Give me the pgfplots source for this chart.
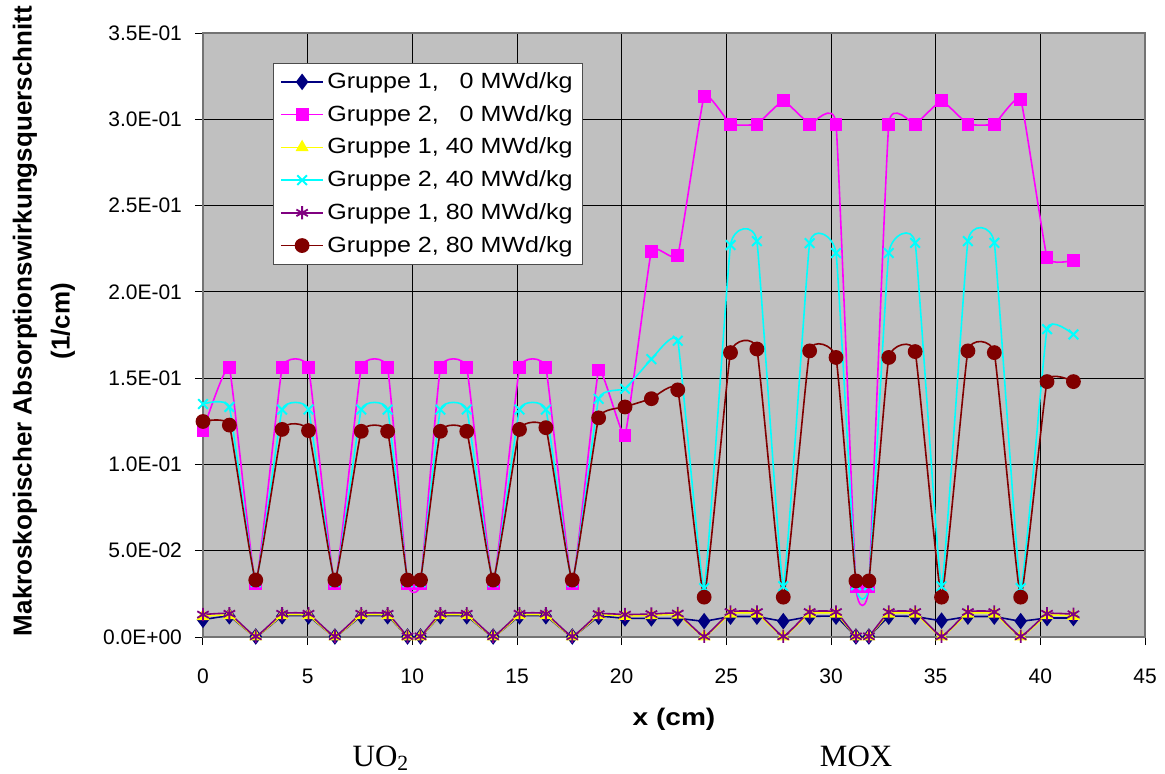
\documentclass[border=0pt]{standalone}
\usepackage{fontspec}
\setmainfont{Liberation Sans}
\newfontfamily\timesfont{Liberation Serif}
\newfontfamily\legfont{Liberation Sans}[FakeStretch=1.14]
\newfontfamily\xlabfont{Liberation Sans}[FakeStretch=1.17]
\usepackage{pgfplots}
\pgfplotsset{compat=1.18}
\usepackage{pgfplotstable}
\definecolor{cnavy}{RGB}{0,0,128}
\definecolor{cmag}{RGB}{255,0,255}
\definecolor{cyel}{RGB}{255,255,0}
\definecolor{ccyan}{RGB}{0,255,255}
\definecolor{cpurp}{RGB}{128,0,128}
\definecolor{cbrown}{RGB}{128,0,0}
\definecolor{cbg}{RGB}{192,192,192}

\pgfplotstableread{
x     ga     gb     gc     gd     ge     gf
0     0.0100 0.1196 0.0120 0.1350 0.0130 0.1249
1.26  0.0120 0.1560 0.0125 0.1333 0.0135 0.1228
2.52  0.0003 0.0310 0.0002 0.0318 0.0004 0.0330
3.78  0.0120 0.1560 0.0125 0.1318 0.0135 0.1203
5.04  0.0120 0.1560 0.0125 0.1318 0.0135 0.1196
6.30  0.0003 0.0310 0.0002 0.0318 0.0004 0.0330
7.56  0.0120 0.1560 0.0125 0.1318 0.0135 0.1192
8.82  0.0120 0.1560 0.0125 0.1318 0.0135 0.1192
9.77  0.0003 0.0310 0.0002 0.0318 0.0004 0.0330
10.39 0.0003 0.0310 0.0002 0.0318 0.0004 0.0330
11.34 0.0120 0.1560 0.0125 0.1318 0.0135 0.1192
12.60 0.0120 0.1560 0.0125 0.1318 0.0135 0.1192
13.86 0.0003 0.0310 0.0002 0.0318 0.0004 0.0330
15.12 0.0120 0.1560 0.0125 0.1318 0.0135 0.1203
16.38 0.0120 0.1560 0.0125 0.1318 0.0135 0.1213
17.64 0.0003 0.0310 0.0002 0.0318 0.0004 0.0330
18.90 0.0118 0.1547 0.0125 0.1380 0.0133 0.1270
20.16 0.0108 0.1170 0.0122 0.1438 0.0130 0.1333
21.42 0.0108 0.2236 0.0125 0.1610 0.0133 0.1381
22.68 0.0108 0.2210 0.0128 0.1717 0.0136 0.1432
23.94 0.0092 0.3134 0.0002 0.0283 0.0004 0.0231
25.20 0.0118 0.2972 0.0135 0.2271 0.0145 0.1648
26.46 0.0118 0.2972 0.0135 0.2294 0.0145 0.1669
27.72 0.0092 0.3107 0.0002 0.0294 0.0004 0.0231
28.98 0.0118 0.2972 0.0135 0.2282 0.0145 0.1658
30.24 0.0118 0.2972 0.0135 0.2225 0.0145 0.1620
31.19 0.0003 0.0294 0.0002 0.0300 0.0004 0.0325
31.81 0.0003 0.0294 0.0002 0.0300 0.0004 0.0325
32.76 0.0118 0.2972 0.0135 0.2225 0.0145 0.1620
34.02 0.0118 0.2972 0.0135 0.2284 0.0145 0.1654
35.28 0.0095 0.3107 0.0002 0.0294 0.0004 0.0231
36.54 0.0118 0.2972 0.0135 0.2294 0.0145 0.1658
37.80 0.0118 0.2972 0.0135 0.2284 0.0145 0.1648
39.06 0.0092 0.3117 0.0002 0.0283 0.0004 0.0231
40.32 0.0110 0.2200 0.0125 0.1784 0.0135 0.1480
41.58 0.0110 0.2183 0.0122 0.1753 0.0132 0.1480
}\data

\begin{document}
\begin{tikzpicture}
\path[use as bounding box] (-101.5pt,-68pt) rectangle (481pt,318.5pt);
\begin{axis}[
  at={(0,0)}, anchor=south west,
  scale only axis, width=471pt, height=302pt,
  xmin=0, xmax=45, ymin=0, ymax=0.35,
  xtick={0,5,10,15,20,25,30,35,40,45},
  ytick={0,0.05,0.1,0.15,0.2,0.25,0.3,0.35},
  yticklabels={0.0E+00,5.0E-02,1.0E-01,1.5E-01,2.0E-01,2.5E-01,3.0E-01,3.5E-01},
  /pgf/number format/assume math mode=true,
  tick label style={font=\fontsize{10.5}{12}\selectfont},
  xticklabel style={yshift=-8.5pt},
  yticklabel style={xshift=-3pt},
  tick align=outside, tick pos=left,
  major tick length=4pt,
  tick style={black, line width=0.5pt},
  axis background/.style={fill=cbg},
  axis line style={black!55, line width=0.6pt},
  grid=major,
  major grid style={black, line width=0.5pt},
  xlabel={x (cm)},
  xlabel style={font=\xlabfont\bfseries\fontsize{12}{14}\selectfont, at={(axis description cs:0.5,0)}, anchor=base, yshift=-44pt},
  ylabel={Makroskopischer Absorptionswirkungsquerschnitt\\(1/cm)},
  ylabel style={align=center, font=\bfseries\fontsize{13}{19}\selectfont, at={(axis description cs:-0.1688,0.523)}, anchor=center},
  legend cell align=left,
  legend style={at={(rel axis cs:0.074,0.9507)}, anchor=north west,
    draw=black!70, fill=white, font=\legfont\fontsize{11}{13}\selectfont,
    nodes={inner sep=1.6pt}, row sep=3.7pt, inner xsep=3.5pt, inner ysep=3pt},
  legend image code/.code={\draw[mark repeat=2,mark phase=2,#1] plot coordinates {(0pt,0pt)(10.6pt,0pt)(21.2pt,0pt)};},
  every axis plot/.append style={line width=0.8pt, smooth, tension=0.2},
  clip=false,
]
\addplot[color=cnavy, mark=diamond*, mark size=3.5pt, mark options={solid, fill=cnavy}] table[x=x,y=ga]{\data};
\addlegendentry{Gruppe 1, \phantom{4}0 MWd/kg}
\addplot[color=cmag, mark=square*, mark size=2.8pt, mark options={solid, fill=cmag}] table[x=x,y=gb]{\data};
\addlegendentry{Gruppe 2, \phantom{4}0 MWd/kg}
\addplot[color=cyel, mark=triangle*, mark size=3pt, mark options={solid, fill=cyel}] table[x=x,y=gc]{\data};
\addlegendentry{Gruppe 1, 40 MWd/kg}
\addplot[color=ccyan, mark=x, mark size=3.4pt, mark options={solid, line width=1pt}] table[x=x,y=gd]{\data};
\addlegendentry{Gruppe 2, 40 MWd/kg}
\addplot[color=cpurp, mark=asterisk, mark size=3.3pt, mark options={solid, line width=0.9pt}] table[x=x,y=ge]{\data};
\addlegendentry{Gruppe 1, 80 MWd/kg}
\addplot[color=cbrown, mark=*, mark size=3.3pt, mark options={solid, fill=cbrown}] table[x=x,y=gf]{\data};
\addlegendentry{Gruppe 2, 80 MWd/kg}
\node[font=\timesfont\fontsize{15.5}{17}\selectfont, anchor=base] at (axis cs:8.5,0) [yshift=-64.5pt] {UO\textsubscript{2}};
\node[font=\timesfont\fontsize{15.5}{17}\selectfont, anchor=base] at (axis cs:31.2,0) [yshift=-64.5pt] {MOX};
\end{axis}
\end{tikzpicture}
\end{document}
